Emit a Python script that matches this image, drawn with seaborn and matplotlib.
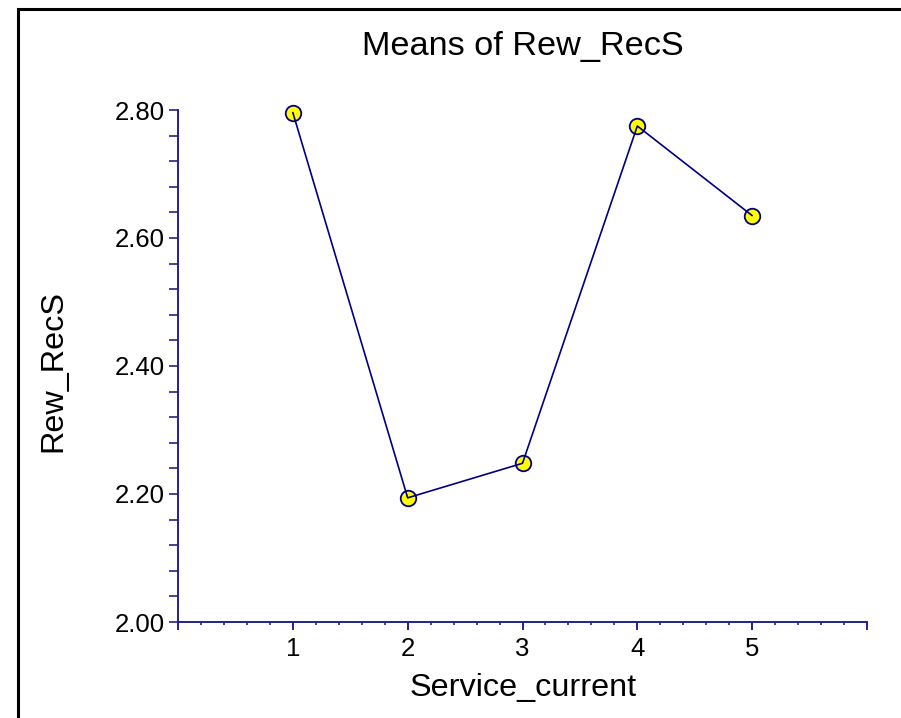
import matplotlib
matplotlib.use("Agg")
import matplotlib.pyplot as plt
import matplotlib.patches as patches
from matplotlib.ticker import MultipleLocator, FixedLocator, FuncFormatter
import seaborn as sns
import pandas as pd

# Data
categories = [1, 2, 3, 4, 5]
means = [2.796, 2.194, 2.248, 2.775, 2.635]
title = "Means of Rew_RecS"
xlabel = "Service_current"
ylabel = "Rew_RecS"

sns.set_style("white")
plt.rcParams['font.family'] = ['Liberation Sans', 'DejaVu Sans']
plt.rcParams['text.color'] = 'black'
plt.rcParams['axes.labelcolor'] = 'black'
plt.rcParams['xtick.labelcolor'] = 'black'
plt.rcParams['ytick.labelcolor'] = 'black'

NAVY = "#000080"
AXC = "#23238f"

df = pd.DataFrame({"x": categories, "y": means})

fig = plt.figure(figsize=(9.01, 7.18), dpi=100)
W, H = 901, 718
ax = fig.add_axes([178 / W, (H - 622) / H, (867 - 178) / W, (622 - 110) / H])

sns.scatterplot(data=df, x="x", y="y", ax=ax, s=125, color="#ffff00",
                edgecolor=NAVY, linewidth=1.3, zorder=3, clip_on=False, legend=False)
sns.lineplot(data=df, x="x", y="y", ax=ax, color=NAVY, linewidth=1.2,
             zorder=4, legend=False)
for ln in ax.lines:
    ln.set_clip_on(False)

ax.set_xlim(0, 6)
ax.set_ylim(2.0, 2.8)

for s in ["top", "right"]:
    ax.spines[s].set_visible(False)
for s in ["left", "bottom"]:
    ax.spines[s].set_color(AXC)
    ax.spines[s].set_linewidth(1.4)

ax.xaxis.set_major_locator(FixedLocator([0, 1, 2, 3, 4, 5, 6]))
ax.xaxis.set_major_formatter(FuncFormatter(lambda v, p: "" if v in (0, 6) else f"{int(v)}"))
ax.xaxis.set_minor_locator(MultipleLocator(0.2))
ax.yaxis.set_major_locator(MultipleLocator(0.2))
ax.yaxis.set_major_formatter(FuncFormatter(lambda v, p: f"{v:.2f}"))
ax.yaxis.set_minor_locator(MultipleLocator(0.04))

ax.tick_params(axis="x", which="major", direction="out", length=6, width=1.4,
               color=AXC, labelsize=18.5, pad=5, bottom=True, labelcolor="black")
ax.tick_params(axis="x", which="minor", direction="out", length=2, width=1.2,
               color=AXC, bottom=True)
ax.tick_params(axis="y", which="both", direction="out", length=6.5, width=1.2,
               color=AXC, labelsize=18.5, pad=3, left=True, labelcolor="black")

ax.set_xlabel(xlabel, fontsize=23.3, color="black")
ax.set_ylabel(ylabel, fontsize=23.3, color="black")
ax.xaxis.label.set_va("center")
ax.yaxis.label.set_va("center")
ax.xaxis.set_label_coords((523 - 178) / 689, (622 - 688) / 512)
ax.yaxis.set_label_coords((53 - 178) / 689, (622 - 371) / 512)

fig.text(523 / W, 1 - 47 / H, title, ha="center", va="center", fontsize=24.7,
         color="black")

border = patches.Rectangle((18 / W, -0.1), 1.2, 1 - 9 / H + 0.1,
                           transform=fig.transFigure, fill=False,
                           edgecolor="black", linewidth=2.2, clip_on=False)
fig.patches.append(border)

fig.savefig("out.png", dpi=100)
